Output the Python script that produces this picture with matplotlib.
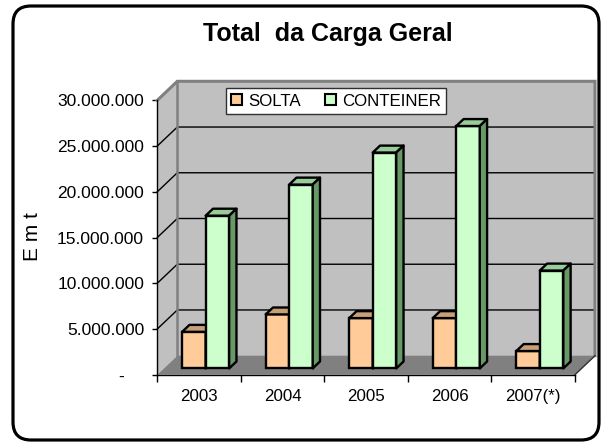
import matplotlib
matplotlib.use("Agg")
import matplotlib.pyplot as plt
from matplotlib.patches import Polygon, FancyBboxPatch, Patch
from matplotlib.ticker import FuncFormatter, MultipleLocator, FixedLocator
from matplotlib.transforms import ScaledTranslation

plt.rcParams['font.family'] = ['Liberation Sans', 'DejaVu Sans']

# ---- data ----
categories = ["2003", "2004", "2005", "2006", "2007(*)"]
solta = [4.0e6, 5.9e6, 5.5e6, 5.5e6, 1.9e6]
conteiner = [16.7e6, 20.1e6, 23.6e6, 26.5e6, 10.7e6]
series_names = ["SOLTA", "CONTEINER"]
title = "Total  da Carga Geral"
ylabel = "E m t"

# ---- style ----
W, H = 602, 444
fig = plt.figure(figsize=(W / 100, H / 100), dpi=100)
fig.patch.set_facecolor("white")

# background axes in pixel coordinates for the rounded frame
bg = fig.add_axes([0, 0, 1, 1])
bg.set_xlim(0, W)
bg.set_ylim(H, 0)
bg.axis("off")
bg.add_patch(FancyBboxPatch((13 + 18, 6 + 18), 586 - 36, 434 - 36,
                            boxstyle="round,pad=18", linewidth=2.3,
                            edgecolor="black", facecolor="white"))

# main axes (front plane)
ax_l, ax_r, ax_t, ax_b = 157.3, 575.0, 100.3, 374.7
ax = fig.add_axes([ax_l / W, (H - ax_b) / H, (ax_r - ax_l) / W, (ax_b - ax_t) / H])
n = len(categories)
ymax = 30e6
ax.set_xlim(-0.5, n - 0.5)
ax.set_ylim(0, ymax)
ax.patch.set_alpha(0)

px_x = (ax_r - ax_l) / n          # pixels per category
px_y = (ax_b - ax_t) / ymax       # pixels per unit value
DX, DY = 20.0, 19.0               # depth of the 3D box, pixels
dxd, dyd = DX / px_x, DY / px_y   # in data units

wall = "#C0C0C0"
floor_c = "#808080"
edge_gray = "#808080"

x0, x1 = -0.5, n - 0.5
# side wall
ax.add_patch(Polygon([(x0, 0), (x0 + dxd, dyd), (x0 + dxd, ymax + dyd), (x0, ymax)],
                     closed=True, facecolor=wall, edgecolor="none", clip_on=False, zorder=1))
# back wall
ax.add_patch(Polygon([(x0 + dxd, dyd), (x1 + dxd, dyd), (x1 + dxd, ymax + dyd), (x0 + dxd, ymax + dyd)],
                     closed=True, facecolor=wall, edgecolor="none", clip_on=False, zorder=1))
# floor
ax.add_patch(Polygon([(x0, 0), (x1, 0), (x1 + dxd, dyd), (x0 + dxd, dyd)],
                     closed=True, facecolor=floor_c, edgecolor="none", clip_on=False, zorder=1))
# gridlines
for t in range(5, 30, 5):
    v = t * 1e6
    ax.plot([x0, x0 + dxd, x1 + dxd], [v, v + dyd, v + dyd], color="black",
            lw=1.0, clip_on=False, zorder=2)
# wall borders
ax.plot([x0, x0 + dxd, x1 + dxd, x1 + dxd], [ymax, ymax + dyd, ymax + dyd, dyd],
        color=edge_gray, lw=2.2, clip_on=False, zorder=2, solid_joinstyle="miter")
ax.plot([x0 + dxd, x0 + dxd], [dyd, ymax + dyd], color=edge_gray, lw=1.8,
        clip_on=False, zorder=2)
ax.plot([x1, x1 + dxd], [0, dyd], color="#303030", lw=1.0, clip_on=False, zorder=2)

# bars (pseudo 3D)
col_front = ["#FFCC99", "#CCFFCC"]
col_top = ["#C8A078", "#99CC99"]
col_side = ["#A07850", "#669966"]
bw = 23.5 / px_x
shift = ScaledTranslation(6.6 / 100, 6.3 / 100, fig.dpi_scale_trans)
tr = ax.transData + shift
bdx, bdy = 0.365 * dxd, 0.365 * dyd
lw_bar = 1.7

for i in range(n):
    for s, vals in enumerate([solta, conteiner]):
        v = vals[i]
        left = i - bw + s * bw
        ax.bar(left, v, bw, align="edge", color=col_front[s], edgecolor="black",
               linewidth=lw_bar, transform=tr, clip_on=False, zorder=3 + i * 2 + s)
        ax.add_patch(Polygon([(left, v), (left + bw, v), (left + bw + bdx, v + bdy),
                              (left + bdx, v + bdy)], closed=True,
                             facecolor=col_top[s], edgecolor="black", linewidth=lw_bar,
                             transform=tr, clip_on=False, zorder=3 + i * 2 + s,
                             joinstyle="round"))
        ax.add_patch(Polygon([(left + bw, 0), (left + bw + bdx, bdy),
                              (left + bw + bdx, v + bdy), (left + bw, v)], closed=True,
                             facecolor=col_side[s], edgecolor="black", linewidth=lw_bar,
                             transform=tr, clip_on=False, zorder=3 + i * 2 + s,
                             joinstyle="round"))

# axes / ticks
for sp in ["top", "right"]:
    ax.spines[sp].set_visible(False)
for sp in ["left", "bottom"]:
    ax.spines[sp].set_color("black")
    ax.spines[sp].set_linewidth(1.0)
    ax.spines[sp].set_zorder(50)

def fmt(v, pos):
    if v == 0:
        return "-    "
    return f"{int(round(v)):,}".replace(",", ".")

ax.yaxis.set_major_locator(MultipleLocator(5e6))
ax.yaxis.set_major_formatter(FuncFormatter(fmt))
ax.tick_params(axis="y", direction="out", length=3.5, width=1.0, pad=6,
               labelsize=12.5, colors="black")
ax.set_xticks(range(n))
ax.set_xticklabels(categories)
ax.xaxis.set_minor_locator(FixedLocator([k - 0.5 for k in range(n + 1)]))
ax.tick_params(axis="x", which="major", length=0, pad=10, labelsize=12.2)
ax.tick_params(axis="x", which="minor", direction="out", length=5, width=1.0)

fig.text(32 / W, 1 - 237 / H, ylabel, rotation=90, ha="center", va="center", fontsize=15)
fig.text(328 / W, 1 - 34 / H, title, ha="center", va="center", fontsize=18, fontweight="bold")

handles = [Patch(facecolor=col_front[k], edgecolor="black", linewidth=1.5) for k in range(2)]
leg = fig.legend(handles, series_names, loc="center", bbox_to_anchor=(336 / W, 1 - 101 / H),
                 ncol=2, fontsize=12.2, handlelength=0.65, handleheight=0.65, handletextpad=0.4,
                 columnspacing=1.4, borderpad=0.3, fancybox=False, framealpha=1,
                 edgecolor="#303030")
leg.get_frame().set_linewidth(1.0)
leg.set_zorder(100)

fig.savefig("out.png", dpi=100)
